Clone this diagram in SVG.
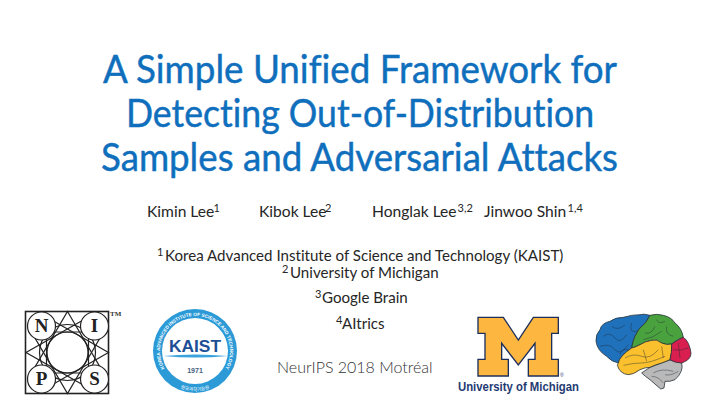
<svg xmlns="http://www.w3.org/2000/svg" width="720" height="405" viewBox="0 0 720 405">
<style>
text{font-family:Lato,"Open Sans","Liberation Sans",sans-serif;font-variant-ligatures:none}
.t{font-size:38px;fill:#0f6fbd;stroke:#0f6fbd;stroke-width:.45px}
.a{font-size:15.6px;fill:#262626}
.b{font-size:15.1px;fill:#262626}
.s{font-size:11px;fill:#262626}
.nl{font-family:"Liberation Serif",serif;font-size:19px;font-weight:bold;fill:#222;text-anchor:middle}
.k{font-family:"Liberation Sans",sans-serif;font-weight:bold}
.v{fill:none;stroke:#1f2a33;stroke-width:1.8;opacity:.7}
</style>
<rect width="720" height="405" fill="#fff"/>
<g id="title">
<text class="t" x="103" y="83" textLength="514" lengthAdjust="spacingAndGlyphs">A Simple Unified Framework for</text>
<text class="t" x="126" y="127" textLength="468" lengthAdjust="spacingAndGlyphs">Detecting Out-of-Distribution</text>
<text class="t" x="101" y="171" textLength="517" lengthAdjust="spacingAndGlyphs">Samples and Adversarial Attacks</text>
</g>
<g id="authors">
<text class="a" x="147" y="217">Kimin Lee<tspan class="s" x="213.5" dy="-5">1</tspan></text>
<text class="a" x="259" y="217">Kibok Lee<tspan class="s" x="325" dy="-5">2</tspan></text>
<text class="a" x="372" y="217">Honglak Lee<tspan class="s" x="457.5" dy="-5">3,2</tspan></text>
<text class="a" x="484" y="217">Jinwoo Shin<tspan class="s" x="567.5" dy="-5">1,4</tspan></text>
</g>
<g id="affiliations">
<text class="b" x="157" y="261"><tspan class="s" dy="-5">1</tspan><tspan x="165" dy="5">Korea Advanced Institute of Science and Technology (KAIST)</tspan></text>
<text class="b" x="282" y="278"><tspan class="s" dy="-5">2</tspan><tspan x="290" dy="5">University of Michigan</tspan></text>
<text class="b" x="315" y="303"><tspan class="s" dy="-5">3</tspan><tspan x="322" dy="5">Google Brain</tspan></text>
<text class="b" x="336" y="329"><tspan class="s" dy="-5">4</tspan><tspan x="342" dy="5">AItrics</tspan></text>
<text x="277" y="373" style="font-size:16px;fill:#333;font-weight:300">NeurIPS 2018 Motréal</text>
</g>
<g id="nips">
<rect x="25.5" y="311.5" width="83" height="82" fill="none" stroke="#222" stroke-width="1.6"/>
<g fill="none" stroke="#222" stroke-width="1.2">
<circle cx="67.5" cy="352.5" r="28"/>
<circle cx="67.5" cy="352.5" r="20.5"/>
<path d="M67.5 311.5L103.5 373L31.5 373Z"/>
<path d="M88.5 317L88.5 388L26 352.5Z"/>
<path d="M103.5 332L67.5 393.5L31.5 332Z"/>
<path d="M108.5 352.5L46.5 388L46.5 317Z"/>
</g>
<g fill="#fff" stroke="#222" stroke-width="1.2">
<circle cx="41.5" cy="326" r="14"/><circle cx="94.5" cy="326" r="14"/><circle cx="41.5" cy="379" r="14"/><circle cx="94.5" cy="379" r="14"/>
</g>
<text class="nl" x="41.5" y="332">N</text><text class="nl" x="94.5" y="332">I</text><text class="nl" x="41.5" y="385">P</text><text class="nl" x="94.5" y="385">S</text>
<text x="110" y="316" style="font-family:'Liberation Serif',serif;font-size:7px;font-weight:bold;fill:#333">TM</text>
</g>
<g id="kaist">
<circle cx="195" cy="351" r="42" fill="#2b9ad6"/>
<circle cx="195" cy="351" r="33" fill="#fff"/>
<defs><path id="ka" d="M168.2 373.5A35 35 0 1 1 221.8 373.5"/><path id="kb" d="M171 383A40 40 0 0 0 219 383"/></defs>
<text class="k" style="font-size:4.7px;fill:#fff"><textPath href="#ka" startOffset="50%" text-anchor="middle">KOREA ADVANCED INSTITUTE OF SCIENCE AND TECHNOLOGY</textPath></text>
<text style="font-family:'Noto Sans CJK KR',sans-serif;font-size:4.6px;fill:#fff"><textPath href="#kb" startOffset="50%" text-anchor="middle">한국과학기술원</textPath></text>
<text class="k" x="195" y="352" textLength="52" lengthAdjust="spacingAndGlyphs" text-anchor="middle" style="font-size:17px;fill:#1c4f96">KAIST</text>
<path d="M163 356Q195 353 228 356Q195 359 163 356Z" fill="#3aa3dd"/>
<text class="k" x="195" y="373" text-anchor="middle" style="font-size:7px;fill:#44607c">1971</text>
</g>
<g id="michigan">
<path transform="translate(440 290) scale(.3333)" fill="#fdb740" stroke="#1c2f5c" stroke-width="4" d="M114 82H190L235 150L280 82H355V130H335V208H355V258H265V208H285V160L235 225L185 160V208H205V258H114V208H135V130H114Z"/>
<text class="k" x="458" y="391" textLength="121" lengthAdjust="spacingAndGlyphs" style="font-size:12.5px;fill:#1f3b73">University of Michigan</text>
<text x="560" y="377" style="font-family:'Liberation Sans',sans-serif;font-size:5px;fill:#1f3b73">®</text>
</g>
<g id="brain" transform="translate(590 308) scale(.3333)" stroke="#27323a" stroke-width="2.4" stroke-linejoin="round">
<path fill="#b9b9b9" d="M180 178L215 165L240 156L275 165Q282 190 255 215Q240 222 225 220L222 240L212 243L180 215Q165 205 155 195Z"/>
<path fill="#1f71bb" d="M180 22Q160 16 150 20Q125 20 100 28Q75 28 60 40Q35 45 30 65Q16 80 18 100Q22 128 50 145Q65 162 85 165Q88 145 125 120Q128 100 135 85Q145 65 150 60Q170 45 180 22Z"/>
<path fill="#4aa23f" d="M180 22Q200 16 220 22Q245 28 255 45Q275 60 280 88Q268 90 245 108Q230 112 215 105Q200 92 185 97Q165 100 150 110Q135 118 125 120Q128 100 135 85Q145 65 150 60Q170 45 180 22Z"/>
<path fill="#fbc02d" d="M85 165Q88 145 125 120Q135 118 150 110Q165 100 185 97Q200 92 215 105Q230 112 245 108Q246 135 240 155Q228 160 215 165Q195 170 180 178Q165 178 150 185Q130 200 115 200Q90 198 82 172Z"/>
<path fill="#d81f4f" d="M245 108Q255 100 280 88Q298 100 303 135Q304 155 275 165Q255 165 240 155Q246 135 245 108Z"/>
<path class="v" d="M40 85Q60 70 75 90T110 80M30 115Q60 105 75 125T115 110M65 55Q85 70 105 50M90 140Q95 120 115 125M125 45Q115 75 140 70M165 75Q185 80 195 55M160 95Q190 90 215 70M230 55Q225 80 250 85M200 35Q205 50 225 40M105 150Q130 135 155 145T205 125M100 172Q130 165 155 165T225 145M160 125L170 160M215 115L220 150M250 125Q270 130 295 120M265 105L270 150M190 195Q215 180 250 190M225 200Q240 205 265 190M185 205Q205 205 220 225"/>
</g>
</svg>
